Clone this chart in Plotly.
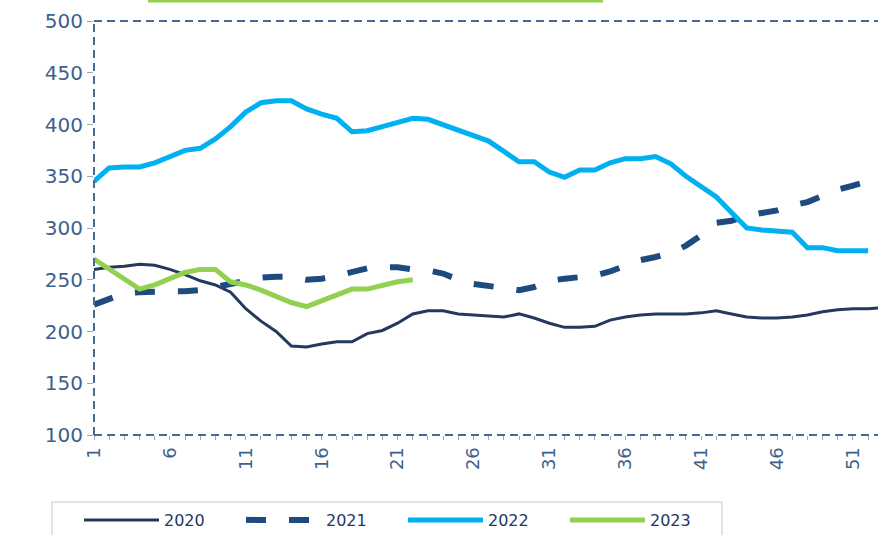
import plotly.graph_objects as go

weeks_2020 = list(range(1, 54))
vals_2020 = [260, 262, 263, 265, 264, 260, 255, 249, 245, 238, 222, 210, 200, 186, 185,
             188, 190, 190, 198, 201, 208, 217, 220, 220, 217, 216, 215, 214, 217, 213,
             208, 204, 204, 205, 211, 214, 216, 217, 217, 217, 218, 220, 217, 214, 213,
             213, 214, 216, 219, 221, 222, 222, 223]

weeks_2021 = list(range(1, 53))
vals_2021 = [226, 232, 237, 238, 238, 238, 239, 240, 243, 247, 250, 252, 253, 253, 250,
             251, 254, 258, 261, 262, 262, 260, 259, 256, 250, 246, 244, 242, 240, 243,
             249, 251, 253, 254, 258, 264, 269, 272, 276, 283, 293, 305, 307, 312, 315,
             317, 322, 325, 331, 337, 341, 345]

weeks_2022 = list(range(1, 53))
vals_2022 = [345, 358, 359, 359, 363, 369, 375, 377, 386, 398, 412, 421, 423, 423, 415,
             410, 406, 393, 394, 398, 402, 406, 405, 400, 394, 390, 384, 374, 364, 364,
             354, 349, 356, 356, 363, 367, 367, 369, 362, 350, 340, 330, 315, 300, 298,
             297, 296, 281, 281, 278, 278, 278]

weeks_2023 = list(range(1, 23))
vals_2023 = [270, 260, 250, 241, 245, 251, 257, 260, 260, 248, 245, 240, 234, 228, 224,
             230, 236, 241, 241, 245, 248, 250]

x_tick_vals = list(range(1, 54))
x_tick_text = [str(w) if (w - 1) % 5 == 0 else "" for w in x_tick_vals]
y_tick_vals = [100, 150, 200, 250, 300, 350, 400, 450, 500]

AXIS_BLUE = "#4a6894"
LABEL_BLUE = "#3e5f8e"

PLOT_L, PLOT_R, PLOT_T, PLOT_B = 94, 878, 21, 435   # screen px
FIG_W, FIG_H = 878, 535
PW, PH = float(PLOT_R - PLOT_L), float(PLOT_B - PLOT_T)


def px_x(px):
    return (px - PLOT_L) / PW


def px_y(py):
    return (PLOT_B - py) / PH


fig = go.Figure()
fig.add_trace(go.Scatter(x=weeks_2020, y=vals_2020, name="2020", mode="lines",
                         line=dict(color="#23395d", width=3)))
fig.add_trace(go.Scatter(x=weeks_2021, y=vals_2021, name="2021", mode="lines",
                         line=dict(color="#1f4a80", width=6, dash="20px,23px")))
fig.add_trace(go.Scatter(x=weeks_2022, y=vals_2022, name="2022", mode="lines",
                         line=dict(color="#00b0f0", width=5)))
fig.add_trace(go.Scatter(x=weeks_2023, y=vals_2023, name="2023", mode="lines",
                         line=dict(color="#92d050", width=5)))

fig.update_layout(
    width=FIG_W, height=FIG_H,
    margin=dict(l=PLOT_L, r=FIG_W - PLOT_R, t=PLOT_T, b=FIG_H - PLOT_B, autoexpand=False),
    paper_bgcolor="white", plot_bgcolor="white",
    font=dict(family="DejaVu Sans", color=LABEL_BLUE),
    showlegend=True,
    legend=dict(orientation="h", x=px_x(79), xanchor="left", y=px_y(503), yanchor="top",
                borderwidth=0, itemwidth=75, entrywidth=72, bgcolor="rgba(0,0,0,0)",
                font=dict(size=16, color="#1f3864", family="DejaVu Sans")),
    xaxis=dict(range=[1, 52.65], tickmode="array", tickvals=x_tick_vals,
               ticktext=x_tick_text, tickangle=-90, ticks="outside", ticklen=4,
               tickcolor="#9aa8bd", tickwidth=1, showgrid=False, zeroline=False,
               showline=False, automargin=False, tickfont=dict(size=18, color=LABEL_BLUE)),
    yaxis=dict(range=[100, 500], tickvals=y_tick_vals, ticks="outside", ticklen=6,
               tickcolor="#9aa8bd", tickwidth=1, showgrid=False, zeroline=False,
               showline=False, automargin=False, tickfont=dict(size=20, color=LABEL_BLUE)),
    shapes=[
        dict(type="line", xref="paper", yref="paper", x0=0, x1=1, y0=1, y1=1,
             line=dict(color=AXIS_BLUE, width=2, dash="8px,5px")),
        dict(type="line", xref="paper", yref="paper", x0=0, x1=0, y0=0, y1=1,
             line=dict(color=AXIS_BLUE, width=2, dash="8px,5px")),
        dict(type="line", xref="paper", yref="paper", x0=0, x1=1, y0=0, y1=0,
             line=dict(color=AXIS_BLUE, width=2, dash="8px,5px")),
        dict(type="line", xref="paper", yref="paper", x0=px_x(148), x1=px_x(603),
             y0=px_y(1), y1=px_y(1), line=dict(color="#92d050", width=3)),
        dict(type="rect", xref="paper", yref="paper", x0=px_x(52), x1=px_x(722),
             y0=px_y(502), y1=px_y(545), line=dict(color="#c8c8c8", width=1),
             fillcolor="rgba(0,0,0,0)"),
    ],
)

fig.write_html(
    "out.html",
    config={"displayModeBar": False},
    post_script="document.body.style.margin='0';document.body.style.overflow='hidden';",
)
